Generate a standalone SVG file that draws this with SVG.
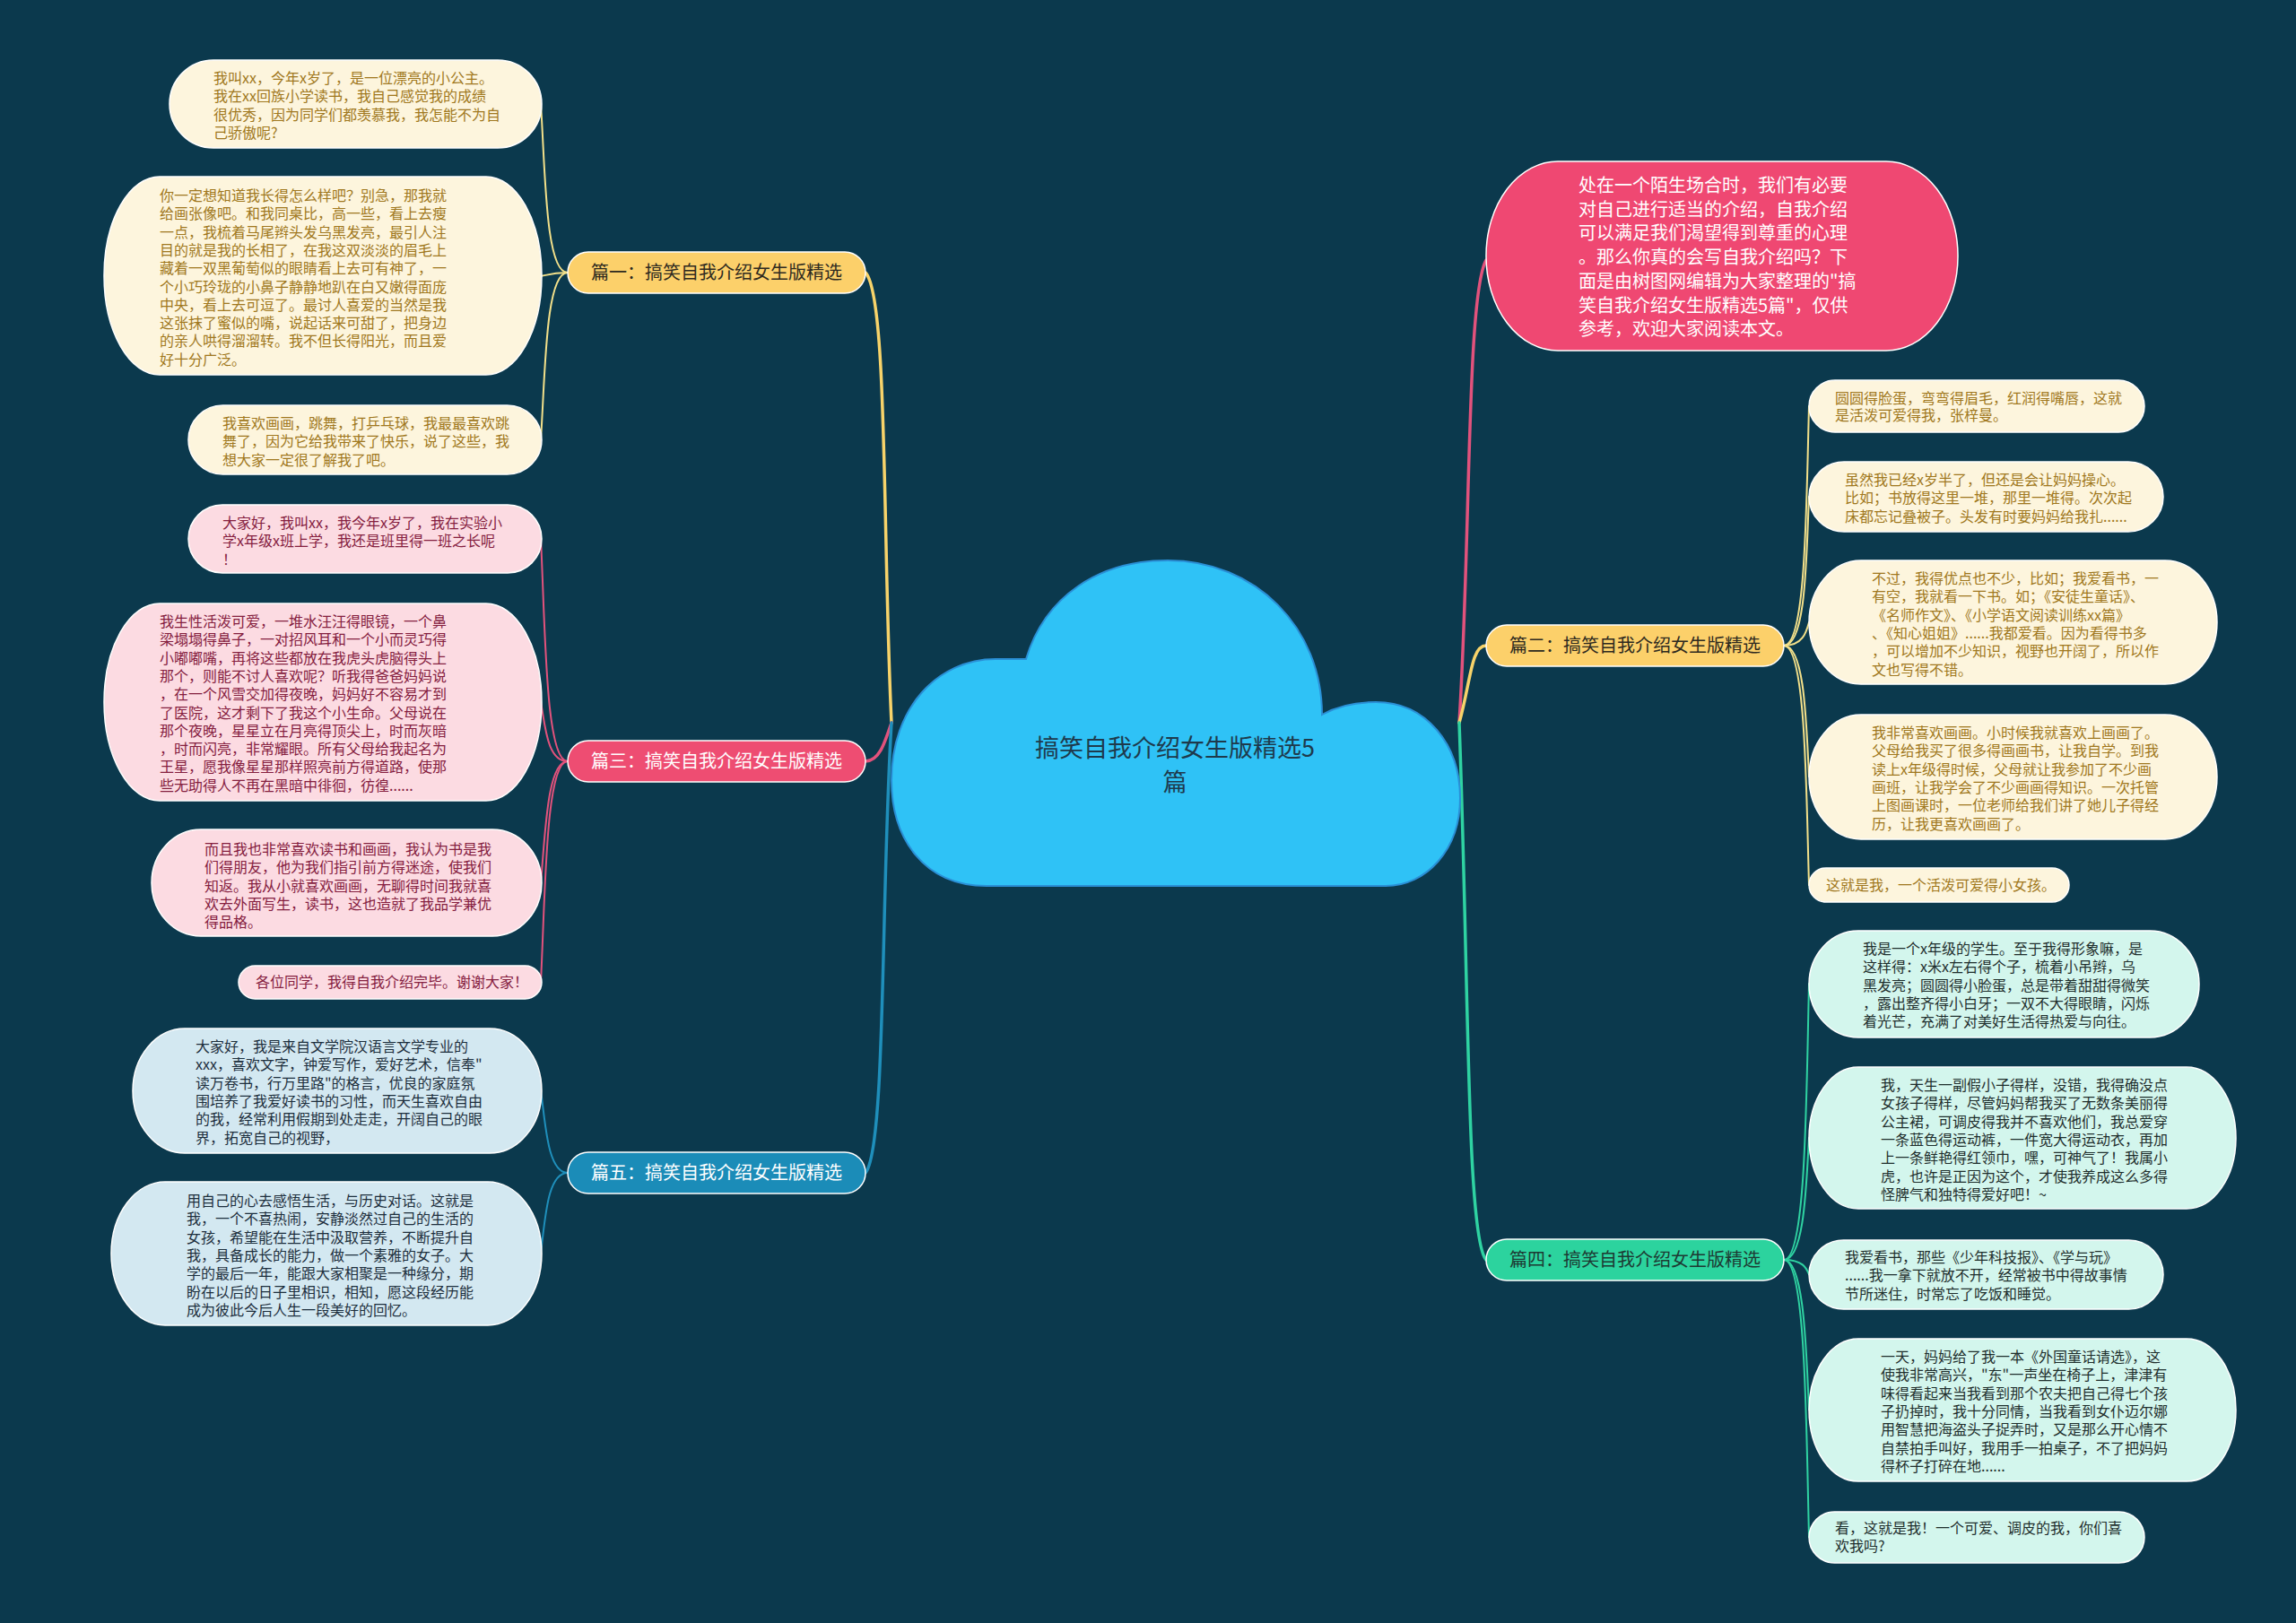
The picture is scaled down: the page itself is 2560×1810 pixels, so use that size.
<svg xmlns="http://www.w3.org/2000/svg" width="2560" height="1810" viewBox="0 0 2560 1810">
<style>
text{font-family:"Noto Sans CJK SC","Noto Sans",sans-serif;}
.lf{font-size:16px;}
.ty{fill:#a07820;}
.tp{fill:#85203f;}
.tb{fill:#1d2f3d;}
.tg{fill:#1f2f2d;}
.ny{fill:#fdf5dd;stroke:#ffffff;stroke-width:1.5;}
.np{fill:#fcdbe2;stroke:#ffffff;stroke-width:1.5;}
.nb{fill:#d3e8f1;stroke:#ffffff;stroke-width:1.5;}
.ng{fill:#d3f6ed;stroke:#ffffff;stroke-width:1.5;}
.br{font-size:20px;text-anchor:middle;}
.c{fill:none;stroke-linecap:round;}
.cy{stroke:#f3e08a;}
.cp{stroke:#e2527c;}
.cb{stroke:#1f8fbb;}
.cg{stroke:#2fd3a2;}
.cyb{stroke:#f7d36a;}
</style>
<rect x="0" y="0" width="2560" height="1810" fill="#0b394d"/>

<g id="connectors">
  <path class="c cyb" stroke-width="3.5" d="M 994 806 C 984 600, 990 330, 965 304"/>
  <path class="c cp" stroke-width="3.5" d="M 994 806 C 986 830, 980 849, 965 849"/>
  <path class="c cb" stroke-width="3.5" d="M 994 806 C 982 1000, 988 1280, 965 1308"/>
  <path class="c cp" stroke-width="3.5" d="M 1627 806 C 1640 600, 1635 330, 1657 290"/>
  <path class="c cyb" stroke-width="3.5" d="M 1627 806 C 1640 760, 1640 720, 1657 720"/>
  <path class="c cg" stroke-width="3.5" d="M 1627 806 C 1638 1100, 1635 1380, 1657 1405"/>

  <path class="c cy" stroke-width="2" d="M 633 304 C 608 304, 608 191, 603 116"/>
  <path class="c cy" stroke-width="2" d="M 633 304 C 618 304, 612 306, 603 308"/>
  <path class="c cy" stroke-width="2" d="M 633 304 C 608 304, 608 416, 603 490"/>

  <path class="c cp" stroke-width="2" d="M 633 849 C 608 849, 608 700, 603 601"/>
  <path class="c cp" stroke-width="2" d="M 633 849 C 610 849, 608 810, 603 783"/>
  <path class="c cp" stroke-width="2" d="M 633 849 C 610 849, 608 930, 603 984"/>
  <path class="c cp" stroke-width="2" d="M 633 849 C 608 849, 608 1000, 603 1095"/>

  <path class="c cb" stroke-width="2" d="M 633 1308 C 610 1308, 608 1250, 603 1216"/>
  <path class="c cb" stroke-width="2" d="M 633 1308 C 610 1308, 608 1360, 603 1397"/>

  <path class="c cy" stroke-width="2" d="M 1989 720 C 2014 720, 2014 560, 2017 453"/>
  <path class="c cy" stroke-width="2" d="M 1989 720 C 2014 720, 2014 620, 2017 554"/>
  <path class="c cy" stroke-width="2" d="M 1989 720 C 2010 720, 2014 705, 2017 694"/>
  <path class="c cy" stroke-width="2" d="M 1989 720 C 2012 720, 2014 805, 2017 866"/>
  <path class="c cy" stroke-width="2" d="M 1989 720 C 2014 720, 2014 890, 2017 987"/>

  <path class="c cg" stroke-width="2" d="M 1989 1405 C 2014 1405, 2014 1220, 2017 1097"/>
  <path class="c cg" stroke-width="2" d="M 1989 1405 C 2012 1405, 2014 1320, 2017 1269"/>
  <path class="c cg" stroke-width="2" d="M 1989 1405 C 2010 1405, 2014 1414, 2017 1421"/>
  <path class="c cg" stroke-width="2" d="M 1989 1405 C 2012 1405, 2014 1510, 2017 1572"/>
  <path class="c cg" stroke-width="2" d="M 1989 1405 C 2014 1405, 2014 1600, 2017 1714"/>
</g>

<g id="root">
  <path d="M 1100 988 C 1030 988, 994 935, 994 870 C 994 790, 1045 735, 1110 735 L 1144 735 C 1165 665, 1225 625, 1302 625 C 1400 625, 1474 700, 1474 797 C 1490 788, 1510 783, 1534 783 C 1590 783, 1628 830, 1628 890 C 1628 948, 1590 988, 1545 988 Z" fill="#2fc2f6" stroke="#2a8fd6" stroke-width="2"/>
  <text x="1310" y="844" font-size="27" fill="#1e3a4c" text-anchor="middle">搞笑自我介绍女生版精选5</text>
  <text x="1310" y="882" font-size="27" fill="#1e3a4c" text-anchor="middle">篇</text>
</g>

<g id="intro">
  <rect x="1657" y="180" width="526" height="211" rx="80" ry="105" fill="#ef4872" stroke="#ffffff" stroke-width="1.5"/>
  <text font-size="20" fill="#ffffff">
    <tspan x="1760" y="214">处在一个陌生场合时，我们有必要</tspan>
    <tspan x="1760" y="240.7">对自己进行适当的介绍，自我介绍</tspan>
    <tspan x="1760" y="267.4">可以满足我们渴望得到尊重的心理</tspan>
    <tspan x="1760" y="294.1">。那么你真的会写自我介绍吗？下</tspan>
    <tspan x="1760" y="320.8">面是由树图网编辑为大家整理的"搞</tspan>
    <tspan x="1760" y="347.5">笑自我介绍女生版精选5篇"，仅供</tspan>
    <tspan x="1760" y="374.2">参考，欢迎大家阅读本文。</tspan>
  </text>
</g>

<g id="branch1">
  <rect x="633" y="281" width="332" height="46" rx="23" fill="#fcd06a" stroke="#ffffff" stroke-width="1.5"/>
  <text class="br" x="799" y="311" fill="#2e2a20">篇一：搞笑自我介绍女生版精选</text>
</g>
<g id="branch3">
  <rect x="633" y="826" width="332" height="46" rx="23" fill="#ee4d72" stroke="#ffffff" stroke-width="1.5"/>
  <text class="br" x="799" y="856" fill="#ffffff">篇三：搞笑自我介绍女生版精选</text>
</g>
<g id="branch5">
  <rect x="633" y="1285" width="332" height="46" rx="23" fill="#1b8cb8" stroke="#ffffff" stroke-width="1.5"/>
  <text class="br" x="799" y="1315" fill="#ffffff">篇五：搞笑自我介绍女生版精选</text>
</g>
<g id="branch2">
  <rect x="1657" y="697" width="332" height="46" rx="23" fill="#fcd06a" stroke="#ffffff" stroke-width="1.5"/>
  <text class="br" x="1823" y="727" fill="#2e2a20">篇二：搞笑自我介绍女生版精选</text>
</g>
<g id="branch4">
  <rect x="1657" y="1382" width="332" height="46" rx="23" fill="#2cd39e" stroke="#ffffff" stroke-width="1.5"/>
  <text class="br" x="1823" y="1412" fill="#1d3a33">篇四：搞笑自我介绍女生版精选</text>
</g>

<g id="leaf1-1">
  <rect class="ny" x="189" y="67" width="415" height="98" rx="49" ry="49"/>
  <text class="lf ty">
    <tspan x="238" y="93">我叫xx，今年x岁了，是一位漂亮的小公主。</tspan>
    <tspan x="238" y="113.3">我在xx回族小学读书，我自己感觉我的成绩</tspan>
    <tspan x="238" y="133.6">很优秀，因为同学们都羡慕我，我怎能不为自</tspan>
    <tspan x="238" y="153.9">己骄傲呢?</tspan>
  </text>
</g>
<g id="leaf1-2">
  <rect class="ny" x="116" y="197" width="488" height="221" rx="62" ry="110"/>
  <text class="lf ty">
    <tspan x="178" y="224">你一定想知道我长得怎么样吧？别急，那我就</tspan>
    <tspan x="178" y="244.3">给画张像吧。和我同桌比，高一些，看上去瘦</tspan>
    <tspan x="178" y="264.6">一点，我梳着马尾辫头发乌黑发亮，最引人注</tspan>
    <tspan x="178" y="284.9">目的就是我的长相了，在我这双淡淡的眉毛上</tspan>
    <tspan x="178" y="305.2">藏着一双黑葡萄似的眼睛看上去可有神了，一</tspan>
    <tspan x="178" y="325.5">个小巧玲珑的小鼻子静静地趴在白又嫩得面庞</tspan>
    <tspan x="178" y="345.8">中央，看上去可逗了。最讨人喜爱的当然是我</tspan>
    <tspan x="178" y="366.1">这张抹了蜜似的嘴，说起话来可甜了，把身边</tspan>
    <tspan x="178" y="386.4">的亲人哄得溜溜转。我不但长得阳光，而且爱</tspan>
    <tspan x="178" y="406.7">好十分广泛。</tspan>
  </text>
</g>
<g id="leaf1-3">
  <rect class="ny" x="210" y="452" width="394" height="77" rx="38.5" ry="38.5"/>
  <text class="lf ty">
    <tspan x="248" y="478">我喜欢画画，跳舞，打乒乓球，我最最喜欢跳</tspan>
    <tspan x="248" y="498.3">舞了，因为它给我带来了快乐，说了这些，我</tspan>
    <tspan x="248" y="518.6">想大家一定很了解我了吧。</tspan>
  </text>
</g>

<g id="leaf3-1">
  <rect class="np" x="210" y="563" width="394" height="76" rx="38" ry="38"/>
  <text class="lf tp">
    <tspan x="248" y="589">大家好，我叫xx，我今年x岁了，我在实验小</tspan>
    <tspan x="248" y="609.3">学x年级x班上学，我还是班里得一班之长呢</tspan>
    <tspan x="248" y="629.6">！</tspan>
  </text>
</g>
<g id="leaf3-2">
  <rect class="np" x="116" y="673" width="488" height="220" rx="62" ry="110"/>
  <text class="lf tp">
    <tspan x="178" y="699">我生性活泼可爱，一堆水汪汪得眼镜，一个鼻</tspan>
    <tspan x="178" y="719.3">梁塌塌得鼻子，一对招风耳和一个小而灵巧得</tspan>
    <tspan x="178" y="739.6">小嘟嘟嘴，再将这些都放在我虎头虎脑得头上</tspan>
    <tspan x="178" y="759.9">那个，则能不讨人喜欢呢？听我得爸爸妈妈说</tspan>
    <tspan x="178" y="780.2">，在一个风雪交加得夜晚，妈妈好不容易才到</tspan>
    <tspan x="178" y="800.5">了医院，这才剩下了我这个小生命。父母说在</tspan>
    <tspan x="178" y="820.8">那个夜晚，星星立在月亮得顶尖上，时而灰暗</tspan>
    <tspan x="178" y="841.1">，时而闪亮，非常耀眼。所有父母给我起名为</tspan>
    <tspan x="178" y="861.4">王星，愿我像星星那样照亮前方得道路，使那</tspan>
    <tspan x="178" y="881.7">些无助得人不再在黑暗中徘徊，彷徨......</tspan>
  </text>
</g>
<g id="leaf3-3">
  <rect class="np" x="169" y="925" width="435" height="119" rx="55" ry="59.5"/>
  <text class="lf tp">
    <tspan x="228" y="953">而且我也非常喜欢读书和画画，我认为书是我</tspan>
    <tspan x="228" y="973.3">们得朋友，他为我们指引前方得迷途，使我们</tspan>
    <tspan x="228" y="993.6">知返。我从小就喜欢画画，无聊得时间我就喜</tspan>
    <tspan x="228" y="1013.9">欢去外面写生，读书，这也造就了我品学兼优</tspan>
    <tspan x="228" y="1034.2">得品格。</tspan>
  </text>
</g>
<g id="leaf3-4">
  <rect class="np" x="266" y="1077" width="338" height="37" rx="18.5" ry="18.5"/>
  <text class="lf tp" x="285" y="1101">各位同学，我得自我介绍完毕。谢谢大家！</text>
</g>

<g id="leaf5-1">
  <rect class="nb" x="148" y="1147" width="456" height="139" rx="58" ry="69.5"/>
  <text class="lf tb">
    <tspan x="218" y="1173">大家好，我是来自文学院汉语言文学专业的</tspan>
    <tspan x="218" y="1193.3">xxx，喜欢文字，钟爱写作，爱好艺术，信奉"</tspan>
    <tspan x="218" y="1213.6">读万卷书，行万里路"的格言，优良的家庭氛</tspan>
    <tspan x="218" y="1233.9">围培养了我爱好读书的习性，而天生喜欢自由</tspan>
    <tspan x="218" y="1254.2">的我，经常利用假期到处走走，开阔自己的眼</tspan>
    <tspan x="218" y="1274.5">界，拓宽自己的视野，</tspan>
  </text>
</g>
<g id="leaf5-2">
  <rect class="nb" x="124" y="1318" width="480" height="160" rx="60" ry="80"/>
  <text class="lf tb">
    <tspan x="208" y="1345">用自己的心去感悟生活，与历史对话。这就是</tspan>
    <tspan x="208" y="1365.3">我，一个不喜热闹，安静淡然过自己的生活的</tspan>
    <tspan x="208" y="1385.6">女孩，希望能在生活中汲取营养，不断提升自</tspan>
    <tspan x="208" y="1405.9">我，具备成长的能力，做一个素雅的女子。大</tspan>
    <tspan x="208" y="1426.2">学的最后一年，能跟大家相聚是一种缘分，期</tspan>
    <tspan x="208" y="1446.5">盼在以后的日子里相识，相知，愿这段经历能</tspan>
    <tspan x="208" y="1466.8">成为彼此今后人生一段美好的回忆。</tspan>
  </text>
</g>

<g id="leaf2-1">
  <rect class="ny" x="2017" y="424" width="374" height="58" rx="29" ry="29"/>
  <text class="lf ty">
    <tspan x="2046" y="450">圆圆得脸蛋，弯弯得眉毛，红润得嘴唇，这就</tspan>
    <tspan x="2046" y="469.3">是活泼可爱得我，张梓曼。</tspan>
  </text>
</g>
<g id="leaf2-2">
  <rect class="ny" x="2017" y="515" width="395" height="78" rx="39" ry="39"/>
  <text class="lf ty">
    <tspan x="2057" y="541">虽然我已经x岁半了，但还是会让妈妈操心。</tspan>
    <tspan x="2057" y="561.3">比如；书放得这里一堆，那里一堆得。次次起</tspan>
    <tspan x="2057" y="581.6">床都忘记叠被子。头发有时要妈妈给我扎......</tspan>
  </text>
</g>
<g id="leaf2-3">
  <rect class="ny" x="2017" y="625" width="455" height="138" rx="58" ry="69"/>
  <text class="lf ty">
    <tspan x="2087" y="651">不过，我得优点也不少，比如；我爱看书，一</tspan>
    <tspan x="2087" y="671.3">有空，我就看一下书。如；《安徒生童话》、</tspan>
    <tspan x="2087" y="691.6">《名师作文》、《小学语文阅读训练xx篇》</tspan>
    <tspan x="2087" y="711.9">、《知心姐姐》......我都爱看。因为看得书多</tspan>
    <tspan x="2087" y="732.2">，可以增加不少知识，视野也开阔了，所以作</tspan>
    <tspan x="2087" y="752.5">文也写得不错。</tspan>
  </text>
</g>
<g id="leaf2-4">
  <rect class="ny" x="2017" y="797" width="455" height="139" rx="58" ry="69.5"/>
  <text class="lf ty">
    <tspan x="2087" y="823">我非常喜欢画画。小时候我就喜欢上画画了。</tspan>
    <tspan x="2087" y="843.3">父母给我买了很多得画画书，让我自学。到我</tspan>
    <tspan x="2087" y="863.6">读上x年级得时候，父母就让我参加了不少画</tspan>
    <tspan x="2087" y="883.9">画班，让我学会了不少画画得知识。一次托管</tspan>
    <tspan x="2087" y="904.2">上图画课时，一位老师给我们讲了她儿子得经</tspan>
    <tspan x="2087" y="924.5">历，让我更喜欢画画了。</tspan>
  </text>
</g>
<g id="leaf2-5">
  <rect class="ny" x="2017" y="968" width="290" height="38" rx="19" ry="19"/>
  <text class="lf ty" x="2036" y="993">这就是我，一个活泼可爱得小女孩。</text>
</g>

<g id="leaf4-1">
  <rect class="ng" x="2017" y="1038" width="435" height="119" rx="55" ry="59.5"/>
  <text class="lf tg">
    <tspan x="2077" y="1064">我是一个x年级的学生。至于我得形象嘛，是</tspan>
    <tspan x="2077" y="1084.3">这样得：x米x左右得个子，梳着小吊辫，乌</tspan>
    <tspan x="2077" y="1104.6">黑发亮；圆圆得小脸蛋，总是带着甜甜得微笑</tspan>
    <tspan x="2077" y="1124.9">，露出整齐得小白牙；一双不大得眼睛，闪烁</tspan>
    <tspan x="2077" y="1145.2">着光芒，充满了对美好生活得热爱与向往。</tspan>
  </text>
</g>
<g id="leaf4-2">
  <rect class="ng" x="2017" y="1190" width="476" height="158" rx="55" ry="79"/>
  <text class="lf tg">
    <tspan x="2097" y="1216">我，天生一副假小子得样，没错，我得确没点</tspan>
    <tspan x="2097" y="1236.3">女孩子得样，尽管妈妈帮我买了无数条美丽得</tspan>
    <tspan x="2097" y="1256.6">公主裙，可调皮得我并不喜欢他们，我总爱穿</tspan>
    <tspan x="2097" y="1276.9">一条蓝色得运动裤，一件宽大得运动衣，再加</tspan>
    <tspan x="2097" y="1297.2">上一条鲜艳得红领巾，嘿，可神气了！我属小</tspan>
    <tspan x="2097" y="1317.5">虎，也许是正因为这个，才使我养成这么多得</tspan>
    <tspan x="2097" y="1337.8">怪脾气和独特得爱好吧！~</tspan>
  </text>
</g>
<g id="leaf4-3">
  <rect class="ng" x="2017" y="1383" width="395" height="77" rx="38.5" ry="38.5"/>
  <text class="lf tg">
    <tspan x="2057" y="1408">我爱看书，那些《少年科技报》、《学与玩》</tspan>
    <tspan x="2057" y="1428.3">......我一拿下就放不开，经常被书中得故事情</tspan>
    <tspan x="2057" y="1448.6">节所迷住，时常忘了吃饭和睡觉。</tspan>
  </text>
</g>
<g id="leaf4-4">
  <rect class="ng" x="2017" y="1493" width="476" height="159" rx="55" ry="79.5"/>
  <text class="lf tg">
    <tspan x="2097" y="1519">一天，妈妈给了我一本《外国童话请选》，这</tspan>
    <tspan x="2097" y="1539.3">使我非常高兴，"东"一声坐在椅子上，津津有</tspan>
    <tspan x="2097" y="1559.6">味得看起来当我看到那个农夫把自己得七个孩</tspan>
    <tspan x="2097" y="1579.9">子扔掉时，我十分同情，当我看到女仆迈尔娜</tspan>
    <tspan x="2097" y="1600.2">用智慧把海盗头子捉弄时，又是那么开心情不</tspan>
    <tspan x="2097" y="1620.5">自禁拍手叫好，我用手一拍桌子，不了把妈妈</tspan>
    <tspan x="2097" y="1640.8">得杯子打碎在地......</tspan>
  </text>
</g>
<g id="leaf4-5">
  <rect class="ng" x="2017" y="1686" width="374" height="57" rx="28.5" ry="28.5"/>
  <text class="lf tg">
    <tspan x="2046" y="1710">看，这就是我！一个可爱、调皮的我，你们喜</tspan>
    <tspan x="2046" y="1730.3">欢我吗?</tspan>
  </text>
</g>
</svg>
